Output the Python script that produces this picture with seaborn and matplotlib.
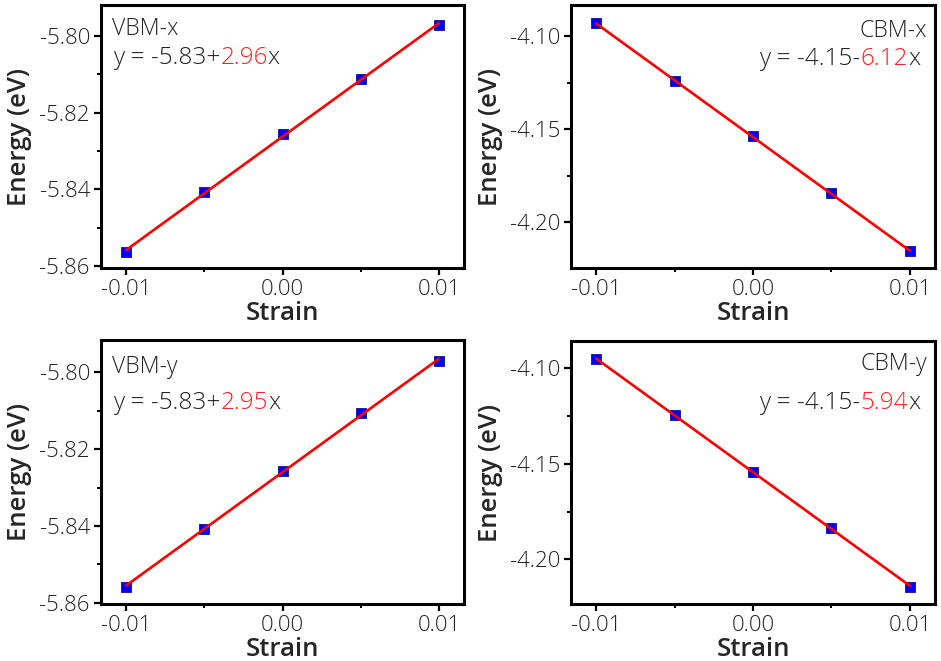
import numpy as np
import pandas as pd
import matplotlib
matplotlib.use('Agg')
import matplotlib.pyplot as plt
import seaborn as sns
from matplotlib.ticker import MultipleLocator

# strain points and band edge energies (eV)
strain = [-0.01, -0.005, 0.0, 0.005, 0.01]
vbm_x = [-5.8564, -5.8408, -5.8257, -5.8112, -5.7973]
cbm_x = [-4.0932, -4.1242, -4.1539, -4.1846, -4.2158]
vbm_y = [-5.8558, -5.8407, -5.8258, -5.8107, -5.7970]
cbm_y = [-4.0953, -4.1248, -4.1542, -4.1836, -4.2143]

names = ['VBM-x', 'CBM-x', 'VBM-y', 'CBM-y']
intercepts = ['-5.83+', '-4.15-', '-5.83+', '-4.15-']
slopes = ['2.96', '6.12', '2.95', '5.94']
ylims = [(-5.8605, -5.792), (-4.2247, -4.0833), (-5.8603, -5.7916), (-4.2233, -4.0859)]
ymajor = [0.02, 0.05, 0.02, 0.05]

sns.set_theme(style='ticks')
plt.rcParams['font.family'] = ['Open Sans', 'DejaVu Sans']
plt.rcParams['axes.linewidth'] = 2.2
plt.rcParams['axes.edgecolor'] = 'black'

fig = plt.figure(figsize=(9.41, 6.61), dpi=100)
boxes = [
    [101 / 941, (661 - 268) / 661, 363 / 941, 263 / 661],
    [571 / 941, (661 - 268) / 661, 364 / 941, 263 / 661],
    [101 / 941, (661 - 604) / 661, 363 / 941, 264 / 661],
    [571 / 941, (661 - 604) / 661, 364 / 941, 263 / 661],
]
# baseline offsets (px from top) of label and equation
label_base = [30, 32, 33, 29]
eq_base = [59, 60, 69, 68]
eq_size = 17.6
name_size = 16.6

series = [vbm_x, cbm_x, vbm_y, cbm_y]
for i, vals in enumerate(series):
    ax = fig.add_axes(boxes[i])
    df = pd.DataFrame({'Strain': strain, 'Energy': vals})
    sns.scatterplot(data=df, x='Strain', y='Energy', ax=ax, marker='s', s=55,
                    color='#0000ff', edgecolor='#1010a0', linewidth=0.6, zorder=2)
    sns.regplot(data=df, x='Strain', y='Energy', ax=ax, scatter=False, ci=None,
                truncate=True, color='#ff0000', line_kws={'linewidth': 1.9, 'zorder': 3})
    ax.set_xlim(-0.0116, 0.0116)
    ax.set_ylim(*ylims[i])
    ax.xaxis.set_major_locator(MultipleLocator(0.01))
    ax.xaxis.set_minor_locator(MultipleLocator(0.005))
    ax.yaxis.set_major_locator(MultipleLocator(ymajor[i]))
    ax.yaxis.set_minor_locator(MultipleLocator(ymajor[i] / 2))
    ax.xaxis.set_major_formatter(plt.FormatStrFormatter('%.2f'))
    ax.yaxis.set_major_formatter(plt.FormatStrFormatter('%.2f'))
    ax.tick_params(which='major', direction='out', length=5, width=1.6,
                   labelsize=16, colors='black', labelcolor='#222222', pad=3)
    ax.tick_params(which='minor', direction='out', length=3, width=1.4, colors='black')
    for lab in ax.get_xticklabels() + ax.get_yticklabels():
        lab.set_fontweight('light')
    ax.set_xlabel('Strain', fontsize=18.5, fontweight='semibold', labelpad=1)
    ax.set_ylabel('Energy (eV)', fontsize=18.5, fontweight='semibold', labelpad=5)
    for side in ['top', 'right', 'left', 'bottom']:
        ax.spines[side].set_visible(True)
        ax.spines[side].set_linewidth(2.2)

    h = boxes[i][3] * 661
    w = boxes[i][2] * 941
    ly = 1 - label_base[i] / h
    ey = 1 - eq_base[i] / h
    if i % 2 == 0:
        ax.text(11 / w, ly, names[i], transform=ax.transAxes, fontsize=name_size,
                color='#222222', va='baseline', ha='left', fontweight='light')
        t1 = ax.text(12 / w, ey, 'y = ' + intercepts[i], transform=ax.transAxes,
                     fontsize=eq_size, color='#222222', va='baseline', ha='left', fontweight='light')
        t2 = ax.annotate(slopes[i], xy=(1, 0), xycoords=t1, fontsize=eq_size,
                         color='#ff2020', va='bottom', ha='left', fontweight='light')
        ax.annotate('x', xy=(1, 0), xycoords=t2, fontsize=eq_size,
                    color='#222222', va='bottom', ha='left', fontweight='light')
    else:
        ax.text(1 - 8 / w, ly, names[i], transform=ax.transAxes, fontsize=name_size,
                color='#222222', va='baseline', ha='right', fontweight='light')
        t1 = ax.text(1 - 15 / w, ey, 'x', transform=ax.transAxes,
                     fontsize=eq_size, color='#222222', va='baseline', ha='right', fontweight='light')
        t2 = ax.annotate(slopes[i], xy=(0, 0), xycoords=t1, fontsize=eq_size,
                         color='#ff2020', va='bottom', ha='right', fontweight='light')
        ax.annotate('y = ' + intercepts[i], xy=(0, 0), xycoords=t2, fontsize=eq_size,
                    color='#222222', va='bottom', ha='right', fontweight='light')

plt.savefig('out.png', dpi=100)
